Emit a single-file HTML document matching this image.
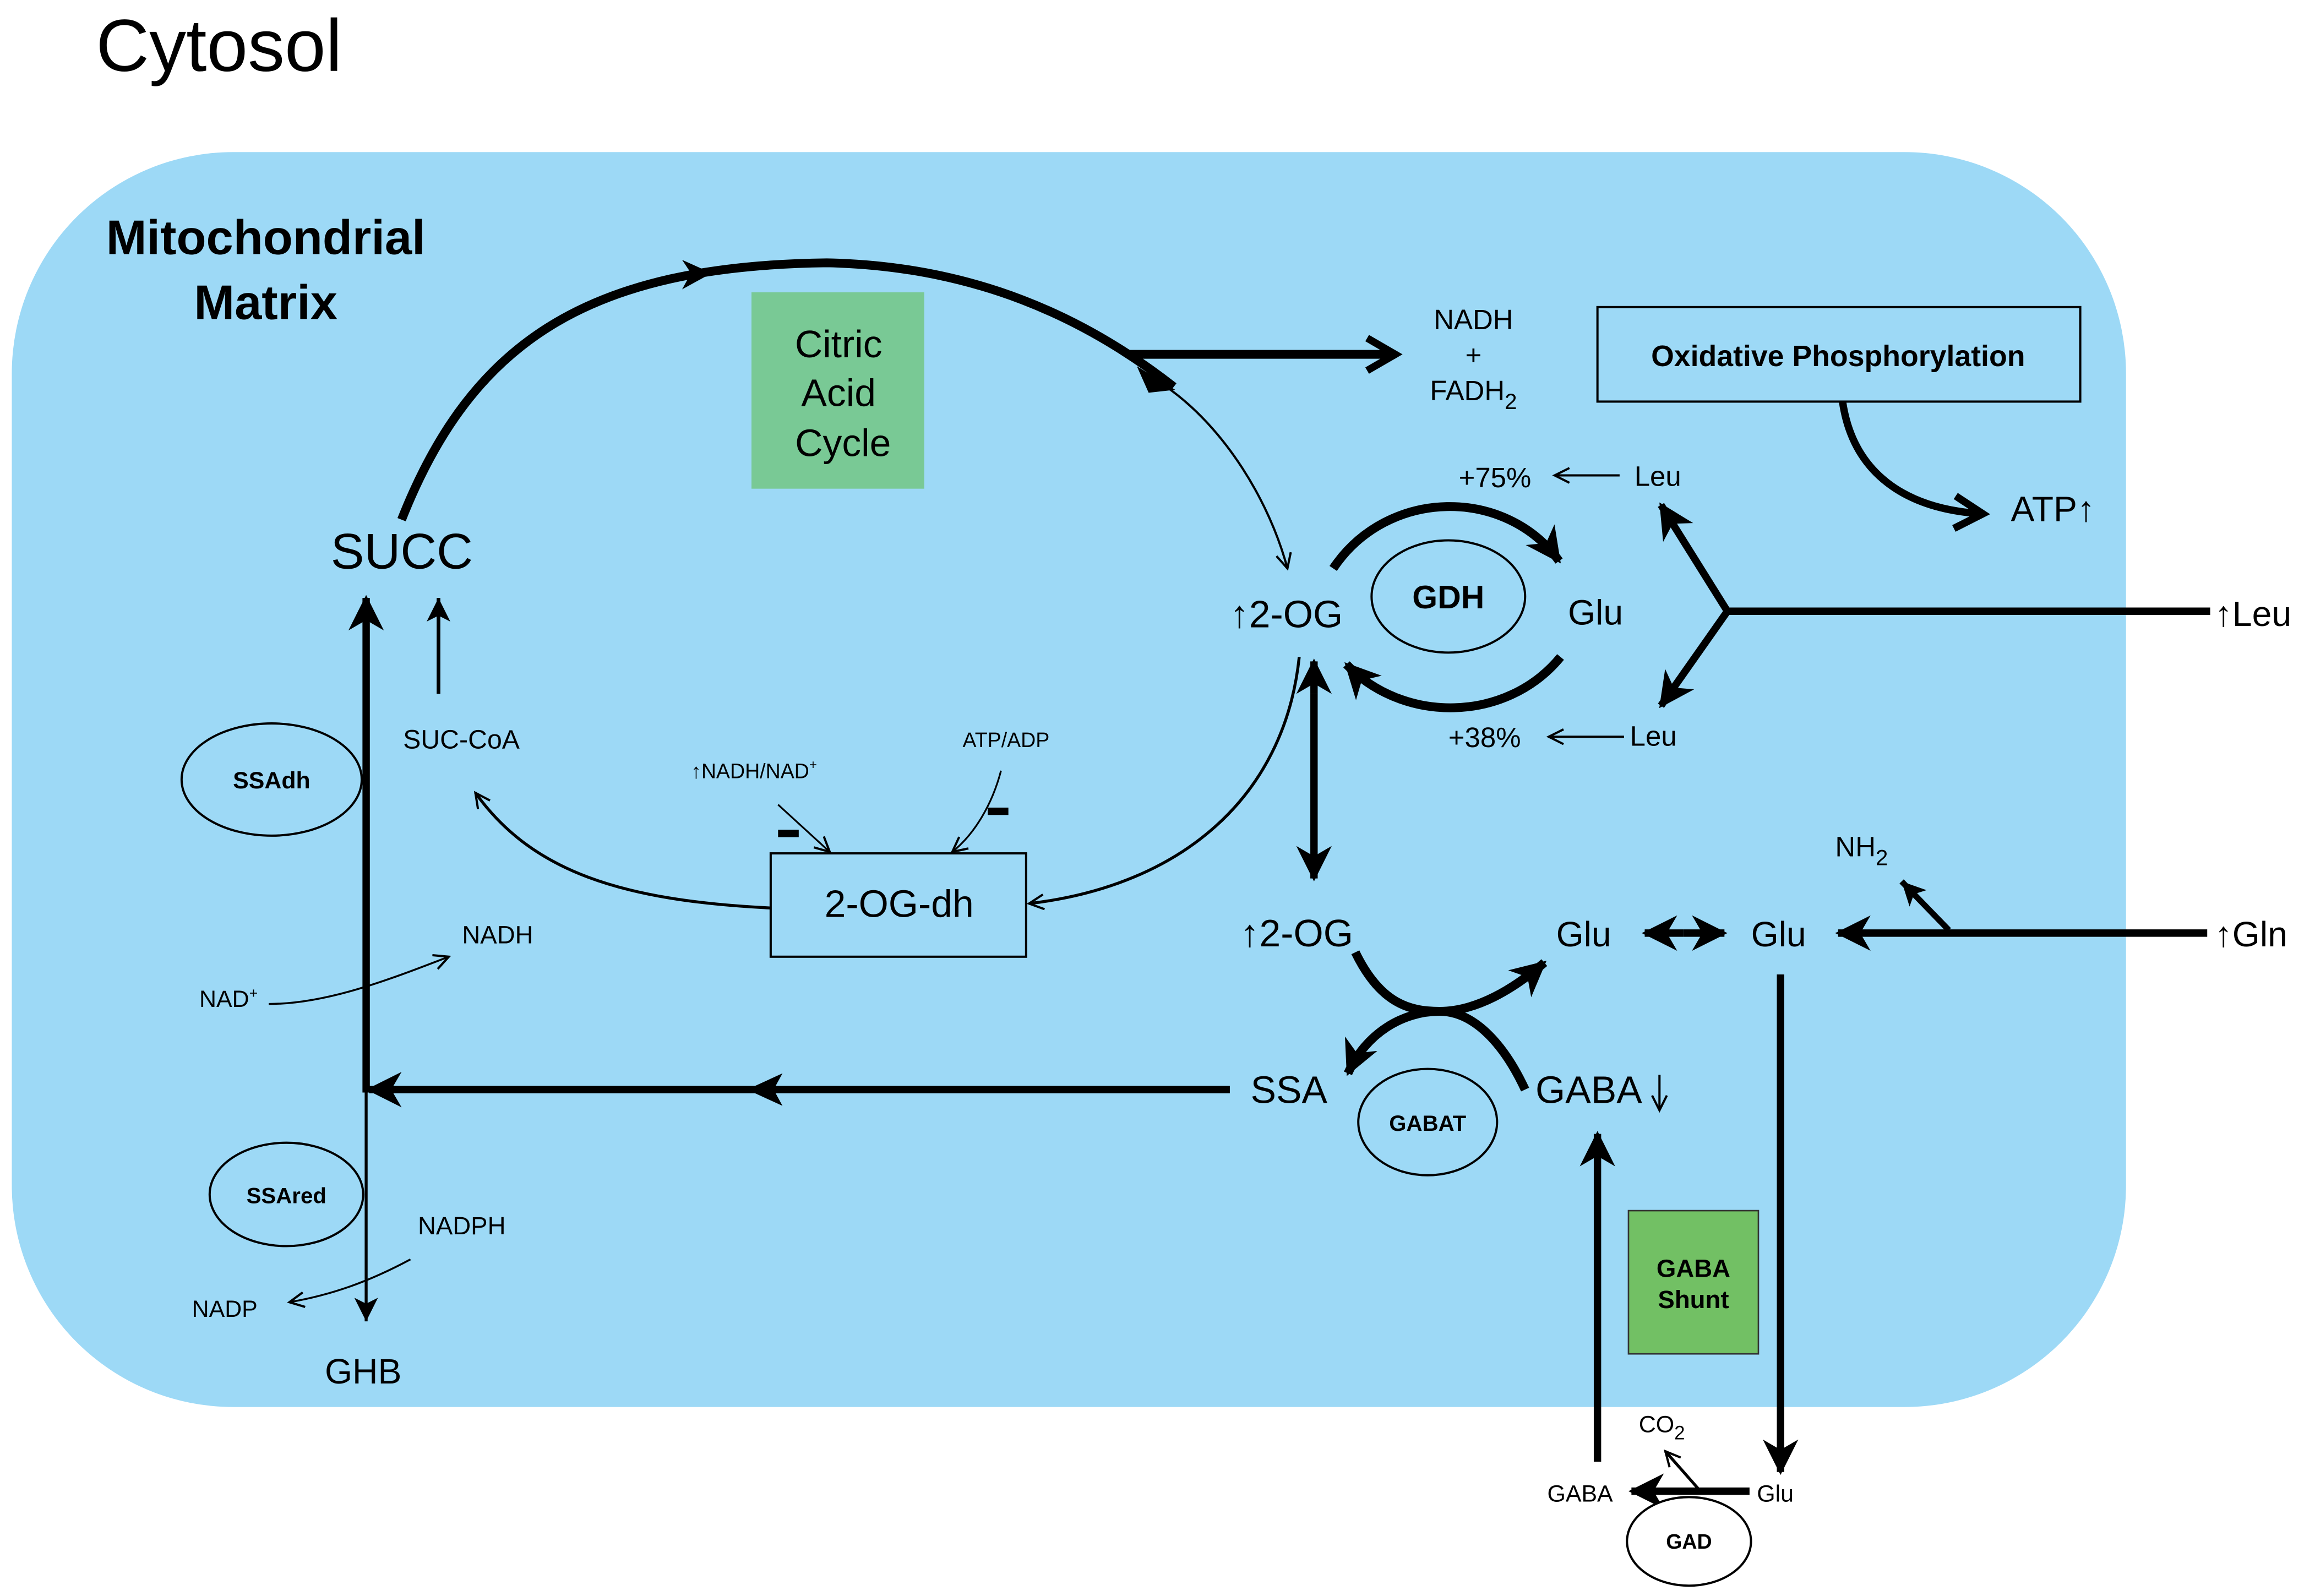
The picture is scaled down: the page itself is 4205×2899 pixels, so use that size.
<!DOCTYPE html>
<html><head><meta charset="utf-8"><style>
html,body{margin:0;padding:0;background:#fff;}
svg{display:block;}
text{font-family:"Liberation Sans",sans-serif;fill:#000;}
</style></head><body>
<svg width="4205" height="2899" viewBox="0 0 1568 1081" xmlns="http://www.w3.org/2000/svg">
<defs>
<marker id="big" markerUnits="userSpaceOnUse" markerWidth="30" markerHeight="30" refX="22" refY="12" orient="auto"><path d="M0,0 L24,12 L0,24 L7,12 z" fill="#000"/></marker>
<marker id="chev" markerUnits="userSpaceOnUse" markerWidth="30" markerHeight="30" refX="22" refY="13" orient="auto"><path d="M3,2 L22,13 L3,24" fill="none" stroke="#000" stroke-width="5"/></marker>
<marker id="thin" markerUnits="userSpaceOnUse" markerWidth="14" markerHeight="14" refX="11" refY="6" orient="auto"><path d="M1,1 L11,6 L1,11" fill="none" stroke="#000" stroke-width="1.5"/></marker>
<marker id="med" markerUnits="userSpaceOnUse" markerWidth="20" markerHeight="20" refX="16" refY="8" orient="auto"><path d="M0,0 L16,8 L0,16 L4,8 z" fill="#000"/></marker>
</defs>
<text x="65" y="48" font-size="50">Cytosol</text>
<rect x="8" y="103" width="1432" height="850" rx="150" ry="150" fill="#9dd9f6"/>
<text x="180" y="172" font-size="33" font-weight="bold" text-anchor="middle">Mitochondrial</text>
<text x="180" y="216" font-size="33" font-weight="bold" text-anchor="middle">Matrix</text>
<rect x="509" y="198" width="117" height="133" fill="#79c995"/>
<g font-size="26" text-anchor="middle"><text x="568" y="242">Citric</text><text x="568" y="275">Acid</text><text x="571" y="309">Cycle</text></g>
<!-- big arc -->
<path d="M272,352 C320,230 400,180 560,178 C660,180 735,215 795,262" fill="none" stroke="#000" stroke-width="6"/>
<path d="M462,176 L482,185 L462,196 L468,185z" fill="#000"/>
<path d="M770,248 L796,264 L778,266z" fill="#000"/>
<line x1="765" y1="240" x2="945" y2="240" stroke="#000" stroke-width="6" marker-end="url(#chev)"/>
<g font-size="19" text-anchor="middle"><text x="998" y="223">NADH</text><text x="998" y="247">+</text><text x="998" y="271">FADH<tspan font-size="15" dy="6">2</tspan></text></g>
<rect x="1082" y="208" width="327" height="64" fill="none" stroke="#000" stroke-width="1.5"/>
<text x="1245" y="248" font-size="20" font-weight="bold" text-anchor="middle">Oxidative Phosphorylation</text>
<path d="M1248,272 C1255,320 1290,345 1343,348" fill="none" stroke="#000" stroke-width="5" marker-end="url(#chev)"/>
<text x="1362" y="353" font-size="24">ATP↑</text>
<path d="M790,262 C830,290 860,340 872,385" fill="none" stroke="#000" stroke-width="1.5" marker-end="url(#thin)"/>
<text x="833" y="425" font-size="26">↑2-OG</text>
<ellipse cx="981" cy="404" rx="52" ry="38" fill="none" stroke="#000" stroke-width="1.5"/>
<text x="981" y="412" font-size="22" font-weight="bold" text-anchor="middle">GDH</text>
<text x="1062" y="423" font-size="24">Glu</text>
<path d="M903,385 C940,330 1020,330 1056,380" fill="none" stroke="#000" stroke-width="6" marker-end="url(#big)"/>
<path d="M1057,445 C1020,490 950,490 912,450" fill="none" stroke="#000" stroke-width="6" marker-end="url(#big)"/>
<text x="988" y="330" font-size="19">+75%</text>
<line x1="1097" y1="322" x2="1053" y2="322" stroke="#000" stroke-width="1.5" marker-end="url(#thin)"/>
<text x="1107" y="329" font-size="19">Leu</text>
<text x="981" y="506" font-size="19">+38%</text>
<line x1="1100" y1="499" x2="1049" y2="499" stroke="#000" stroke-width="1.5" marker-end="url(#thin)"/>
<text x="1104" y="505" font-size="19">Leu</text>
<line x1="1497" y1="414" x2="1170" y2="414" stroke="#000" stroke-width="5"/>
<line x1="1170" y1="414" x2="1125" y2="342" stroke="#000" stroke-width="5" marker-end="url(#big)"/>
<line x1="1170" y1="414" x2="1125" y2="478" stroke="#000" stroke-width="5" marker-end="url(#big)"/>
<text x="1500" y="424" font-size="24">↑Leu</text>
<text x="224" y="385" font-size="34">SUCC</text>
<line x1="248" y1="740" x2="248" y2="405" stroke="#000" stroke-width="5" marker-end="url(#big)"/>
<line x1="248" y1="740" x2="248" y2="895" stroke="#000" stroke-width="2" marker-end="url(#med)"/>
<text x="220" y="937" font-size="24">GHB</text>
<line x1="297" y1="470" x2="297" y2="405" stroke="#000" stroke-width="2.5" marker-end="url(#med)"/>
<text x="273" y="507" font-size="18">SUC-CoA</text>
<ellipse cx="184" cy="528" rx="61" ry="38" fill="none" stroke="#000" stroke-width="1.5"/>
<text x="184" y="534" font-size="16" font-weight="bold" text-anchor="middle">SSAdh</text>
<rect x="522" y="578" width="173" height="70" fill="none" stroke="#000" stroke-width="1.5"/>
<text x="609" y="621" font-size="26" text-anchor="middle">2-OG-dh</text>
<path d="M522,615 C420,610 360,590 322,537" fill="none" stroke="#000" stroke-width="2" marker-end="url(#thin)"/>
<path d="M880,445 C870,540 800,600 697,612" fill="none" stroke="#000" stroke-width="2" marker-end="url(#thin)"/>
<text x="468" y="527" font-size="14">↑NADH/NAD<tspan font-size="9" dy="-6">+</tspan></text>
<line x1="527" y1="545" x2="562" y2="577" stroke="#000" stroke-width="1.2" marker-end="url(#thin)"/>
<rect x="527" y="562" width="14" height="5" fill="#000"/>
<text x="652" y="506" font-size="14">ATP/ADP</text>
<path d="M678,522 C672,545 660,565 645,577" fill="none" stroke="#000" stroke-width="1.2" marker-end="url(#thin)"/>
<rect x="669" y="547" width="14" height="5" fill="#000"/>
<line x1="890" y1="470" x2="890" y2="595" stroke="#000" stroke-width="5" marker-end="url(#big)"/>
<line x1="890" y1="470" x2="890" y2="448" stroke="#000" stroke-width="5" marker-end="url(#big)"/>
<text x="840" y="641" font-size="26">↑2-OG</text>
<text x="1054" y="641" font-size="24">Glu</text>
<line x1="1140" y1="632" x2="1168" y2="632" stroke="#000" stroke-width="5" marker-end="url(#big)"/>
<line x1="1140" y1="632" x2="1114" y2="632" stroke="#000" stroke-width="5" marker-end="url(#big)"/>
<text x="1186" y="641" font-size="24">Glu</text>
<line x1="1495" y1="632" x2="1245" y2="632" stroke="#000" stroke-width="5" marker-end="url(#big)"/>
<line x1="1320" y1="630" x2="1288" y2="597" stroke="#000" stroke-width="4" marker-end="url(#med)"/>
<text x="1243" y="580" font-size="19">NH<tspan font-size="15" dy="6">2</tspan></text>
<text x="1500" y="641" font-size="24">↑Gln</text>
<line x1="1206" y1="660" x2="1206" y2="997" stroke="#000" stroke-width="5" marker-end="url(#big)"/>
<path d="M918,645 C935,680 955,685 975,685 C1000,685 1025,670 1046,652" fill="none" stroke="#000" stroke-width="6" marker-end="url(#big)"/>
<path d="M1033,738 C1020,710 1000,685 975,685 C950,685 925,700 913,727" fill="none" stroke="#000" stroke-width="6" marker-end="url(#big)"/>
<text x="847" y="747" font-size="26">SSA</text>
<text x="1040" y="747" font-size="26">GABA</text>
<line x1="1124" y1="728" x2="1124" y2="752" stroke="#000" stroke-width="1.5" marker-end="url(#thin)"/>
<ellipse cx="967" cy="760" rx="47" ry="36" fill="none" stroke="#000" stroke-width="1.5"/>
<text x="967" y="766" font-size="15" font-weight="bold" text-anchor="middle">GABAT</text>
<line x1="833" y1="738" x2="250" y2="738" stroke="#000" stroke-width="5" marker-end="url(#big)"/>
<path d="M506,738 L530,727 L524,738 L530,749z" fill="#000"/>
<path d="M182,680 C220,680 260,665 304,648" fill="none" stroke="#000" stroke-width="1.3" marker-end="url(#thin)"/>
<text x="135" y="682" font-size="16">NAD<tspan font-size="10" dy="-6">+</tspan></text>
<text x="313" y="639" font-size="17">NADH</text>
<ellipse cx="194" cy="809" rx="52" ry="35" fill="none" stroke="#000" stroke-width="1.5"/>
<text x="194" y="815" font-size="15" font-weight="bold" text-anchor="middle">SSAred</text>
<text x="283" y="836" font-size="17">NADPH</text>
<path d="M278,853 C250,868 225,877 196,882" fill="none" stroke="#000" stroke-width="1.3" marker-end="url(#thin)"/>
<text x="130" y="892" font-size="16">NADP</text>
<rect x="1103" y="820" width="88" height="97" fill="#72c064" stroke="#333" stroke-width="1"/>
<text x="1147" y="865" font-size="17" font-weight="bold" text-anchor="middle">GABA</text>
<text x="1147" y="886" font-size="17" font-weight="bold" text-anchor="middle">Shunt</text>
<line x1="1082" y1="990" x2="1082" y2="768" stroke="#000" stroke-width="5" marker-end="url(#big)"/>
<line x1="1185" y1="1010" x2="1105" y2="1010" stroke="#000" stroke-width="5" marker-end="url(#big)"/>
<text x="1048" y="1017" font-size="16">GABA</text>
<text x="1190" y="1017" font-size="16">Glu</text>
<text x="1110" y="970" font-size="16">CO<tspan font-size="13" dy="5">2</tspan></text>
<line x1="1150" y1="1008" x2="1128" y2="983" stroke="#000" stroke-width="2" marker-end="url(#thin)"/>
<ellipse cx="1144" cy="1044" rx="42" ry="30" fill="#fff" stroke="#000" stroke-width="1.5"/>
<text x="1144" y="1049" font-size="14" font-weight="bold" text-anchor="middle">GAD</text>
</svg>
</body></html>
